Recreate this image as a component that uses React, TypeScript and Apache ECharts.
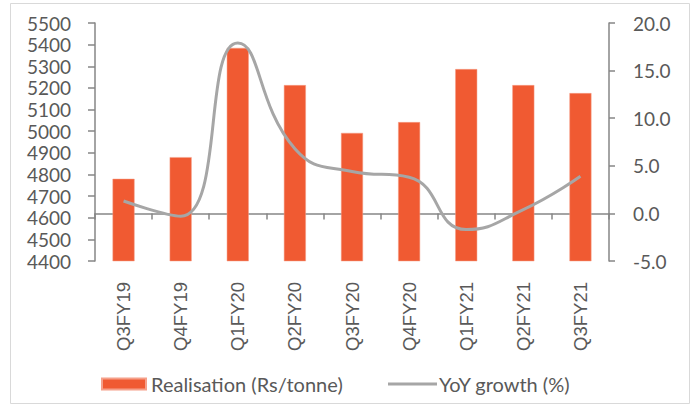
import React, { useEffect, useRef } from "react";
import * as echarts from "echarts";

const categories = ["Q3FY19", "Q4FY19", "Q1FY20", "Q2FY20", "Q3FY20", "Q4FY20", "Q1FY21", "Q2FY21", "Q3FY21"];
const realisation = [4780, 4880, 5385, 5213, 4992, 5042, 5287, 5213, 5176];
const yoyGrowth = [1.3, -0.3, 17.9, 6.8, 4.4, 3.8, -1.7, 0.4, 3.9];
const leftTicks = { min: 4400, max: 5500, interval: 100 };
const rightTicks = { min: -5, max: 20, interval: 5 };

const FONT = "Lato";
const TEXT = "#595959";
const AXIS = "#868686";
const BAR = "#F05A32";
const LINE = "#A6A6A6";

export default function App() {
  const ref = useRef<HTMLDivElement>(null);
  useEffect(() => {
    if (!ref.current) return;
    const chart = echarts.init(ref.current, null, { renderer: "svg" });
    chart.setOption({
      animation: false,
      graphic: [
        {
          type: "rect",
          shape: { x: 10.5, y: 3.5, width: 679, height: 400 },
          style: { fill: "none", stroke: "#D9D9D9", lineWidth: 1 },
          silent: true,
        },
      ],
      grid: { left: 95, right: 87, top: 23, bottom: 146, containLabel: false },
      legend: [
        {
          top: 374,
          left: 101,
          padding: 0,
          itemWidth: 44,
          itemHeight: 11,
          textStyle: { fontFamily: FONT, fontSize: 20, color: TEXT },
          data: [{ name: "Realisation (Rs/tonne)", icon: "rect" }],
        },
        {
          top: 374,
          left: 388,
          padding: 0,
          itemWidth: 49,
          itemHeight: 3,
          textStyle: { fontFamily: FONT, fontSize: 20, color: TEXT, padding: [0, 0, 0, -3] },
          data: [{ name: "YoY growth (%)", icon: "rect", itemStyle: { color: LINE } }],
        },
      ],
      xAxis: {
        type: "category",
        data: categories,
        axisLine: { lineStyle: { color: AXIS, width: 1.5 } },
        axisTick: { show: true, length: 6, lineStyle: { color: AXIS, width: 1.5 } },
        axisLabel: { rotate: 90, margin: 21, fontFamily: "Liberation Sans", fontSize: 18.5, color: TEXT },
      },
      yAxis: [
        {
          type: "value",
          min: leftTicks.min,
          max: leftTicks.max,
          interval: leftTicks.interval,
          position: "left",
          axisLine: { show: true, lineStyle: { color: AXIS, width: 1.5 } },
          axisTick: { show: true, length: 7, lineStyle: { color: AXIS, width: 1.5 } },
          axisLabel: {
            margin: 24,
            fontFamily: FONT,
            fontSize: 19,
            color: TEXT,
            formatter: (v: number) => String(v),
          },
          splitLine: { show: false },
        },
        {
          type: "value",
          min: rightTicks.min,
          max: rightTicks.max,
          interval: rightTicks.interval,
          position: "right",
          axisLine: { show: true, lineStyle: { color: AXIS, width: 1.5 } },
          axisTick: { show: true, length: 6, lineStyle: { color: AXIS, width: 1.5 } },
          axisLabel: {
            margin: 24,
            fontFamily: FONT,
            fontSize: 19,
            color: TEXT,
            formatter: (v: number) => v.toFixed(1),
          },
          splitLine: { show: false },
        },
      ],
      series: [
        {
          name: "Realisation (Rs/tonne)",
          type: "bar",
          data: realisation,
          barWidth: 22,
          itemStyle: { color: BAR, borderColor: "#F5A08A", borderWidth: 0.5 },
        },
        {
          name: "YoY growth (%)",
          type: "line",
          yAxisIndex: 1,
          data: yoyGrowth,
          smooth: 0.5,
          symbol: "none",
          lineStyle: { color: LINE, width: 3 },
          itemStyle: { color: LINE },
        },
      ],
    });
    return () => chart.dispose();
  }, []);
  return (
    <div
      ref={ref}
      style={{ position: "fixed", left: 0, top: 0, width: 696, height: 407, background: "#fff" }}
    />
  );
}
